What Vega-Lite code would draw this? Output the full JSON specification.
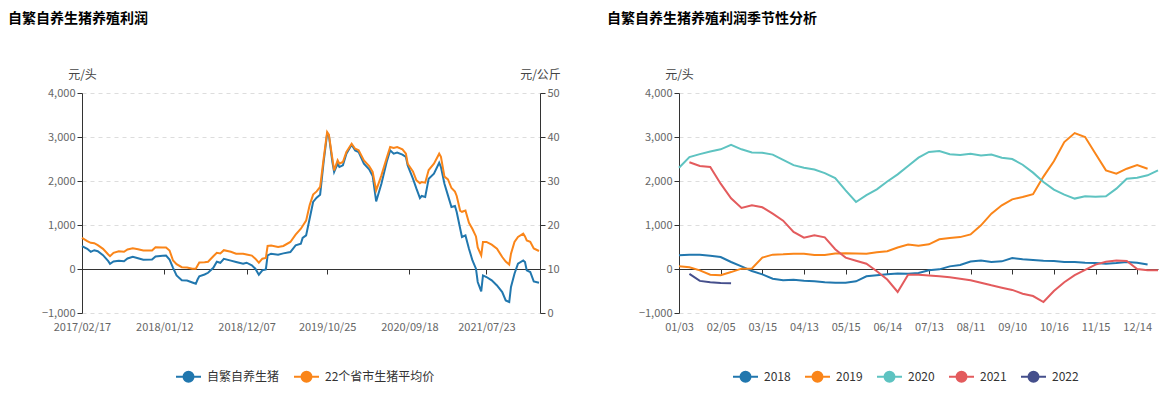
{
  "$schema": "https://vega.github.io/schema/vega-lite/v6.json",
  "padding": {"left": 8, "top": 12, "right": 4, "bottom": 2},
  "config": {
    "font": "Noto Sans CJK SC",
    "view": {"stroke": null},
    "axis": {"labelFontSize": 11, "labelColor": "#666", "domainColor": "#333", "tickColor": "#333", "titleFontWeight": "normal", "titleFontSize": 12, "titleColor": "#444", "labelFont": "Noto Sans CJK SC", "titleFont": "Noto Sans CJK SC"},
    "legend": {"labelFontSize": 12, "labelColor": "#333", "labelFont": "Noto Sans CJK SC", "padding": 0},
    "title": {"fontSize": 14, "fontWeight": "bold", "anchor": "start", "color": "#000", "frame": "group", "font": "Noto Sans CJK SC"}
  },
  "datasets": {
    "pig": [
      {"date": "2017/02/17", "profit": 518, "price": 17.09},
      {"date": "2017/03/10", "profit": 459, "price": 16.32},
      {"date": "2017/03/24", "profit": 390, "price": 15.95},
      {"date": "2017/04/07", "profit": 427, "price": 15.86},
      {"date": "2017/04/21", "profit": 405, "price": 15.41},
      {"date": "2017/05/12", "profit": 314, "price": 14.59},
      {"date": "2017/06/02", "profit": 177, "price": 13.30},
      {"date": "2017/06/09", "profit": 118, "price": 12.91},
      {"date": "2017/06/23", "profit": 170, "price": 13.68},
      {"date": "2017/07/14", "profit": 186, "price": 14.05},
      {"date": "2017/08/04", "profit": 177, "price": 13.91},
      {"date": "2017/08/18", "profit": 239, "price": 14.43},
      {"date": "2017/09/08", "profit": 277, "price": 14.73},
      {"date": "2017/09/29", "profit": 245, "price": 14.50},
      {"date": "2017/10/20", "profit": 209, "price": 14.20},
      {"date": "2017/11/24", "profit": 216, "price": 14.20},
      {"date": "2017/12/08", "profit": 284, "price": 14.95},
      {"date": "2018/01/05", "profit": 300, "price": 14.89},
      {"date": "2018/01/19", "profit": 307, "price": 14.89},
      {"date": "2018/02/02", "profit": 216, "price": 14.20},
      {"date": "2018/02/16", "profit": 27, "price": 11.93},
      {"date": "2018/03/02", "profit": -148, "price": 11.09},
      {"date": "2018/03/23", "profit": -255, "price": 10.41},
      {"date": "2018/04/13", "profit": -261, "price": 10.34},
      {"date": "2018/05/04", "profit": -307, "price": 10.05},
      {"date": "2018/05/18", "profit": -336, "price": 10.05},
      {"date": "2018/05/25", "profit": -239, "price": 10.80},
      {"date": "2018/06/01", "profit": -164, "price": 11.48},
      {"date": "2018/06/22", "profit": -125, "price": 11.55},
      {"date": "2018/07/06", "profit": -86, "price": 11.64},
      {"date": "2018/07/27", "profit": 27, "price": 12.90},
      {"date": "2018/08/10", "profit": 164, "price": 13.68},
      {"date": "2018/08/24", "profit": 141, "price": 13.52},
      {"date": "2018/09/07", "profit": 232, "price": 14.27},
      {"date": "2018/10/05", "profit": 190, "price": 13.91},
      {"date": "2018/10/26", "profit": 159, "price": 13.48},
      {"date": "2018/11/23", "profit": 120, "price": 13.48},
      {"date": "2018/12/07", "profit": 143, "price": 13.30},
      {"date": "2018/12/28", "profit": 82, "price": 13.05},
      {"date": "2019/01/11", "profit": 7, "price": 12.34},
      {"date": "2019/01/25", "profit": -130, "price": 11.43},
      {"date": "2019/02/08", "profit": -32, "price": 12.34},
      {"date": "2019/02/22", "profit": -9, "price": 12.50},
      {"date": "2019/03/01", "profit": 309, "price": 15.23},
      {"date": "2019/03/15", "profit": 348, "price": 15.36},
      {"date": "2019/04/12", "profit": 325, "price": 15.00},
      {"date": "2019/05/03", "profit": 355, "price": 15.23},
      {"date": "2019/05/31", "profit": 386, "price": 16.14},
      {"date": "2019/06/21", "profit": 536, "price": 17.80},
      {"date": "2019/07/12", "profit": 575, "price": 19.16},
      {"date": "2019/07/19", "profit": 705, "price": 19.77},
      {"date": "2019/08/02", "profit": 764, "price": 21.0},
      {"date": "2019/08/16", "profit": 1143, "price": 24.5},
      {"date": "2019/08/30", "profit": 1523, "price": 26.9},
      {"date": "2019/09/13", "profit": 1620, "price": 27.64},
      {"date": "2019/09/27", "profit": 1689, "price": 28.64},
      {"date": "2019/10/11", "profit": 2432, "price": 35.07},
      {"date": "2019/10/25", "profit": 3075, "price": 41.14},
      {"date": "2019/11/01", "profit": 3037, "price": 40.53},
      {"date": "2019/11/15", "profit": 2432, "price": 35.07},
      {"date": "2019/11/22", "profit": 2205, "price": 32.41},
      {"date": "2019/12/06", "profit": 2393, "price": 34.69},
      {"date": "2019/12/13", "profit": 2318, "price": 33.93},
      {"date": "2019/12/27", "profit": 2355, "price": 34.32},
      {"date": "2020/01/10", "profit": 2621, "price": 36.59},
      {"date": "2020/01/31", "profit": 2825, "price": 38.48},
      {"date": "2020/02/14", "profit": 2696, "price": 37.34},
      {"date": "2020/02/28", "profit": 2659, "price": 37.0},
      {"date": "2020/03/20", "profit": 2393, "price": 34.69},
      {"date": "2020/04/10", "profit": 2264, "price": 33.41},
      {"date": "2020/04/24", "profit": 2114, "price": 32.05},
      {"date": "2020/05/08", "profit": 1536, "price": 27.87},
      {"date": "2020/05/29", "profit": 1939, "price": 31.28},
      {"date": "2020/06/19", "profit": 2432, "price": 35.2},
      {"date": "2020/07/03", "profit": 2696, "price": 37.73},
      {"date": "2020/07/17", "profit": 2621, "price": 37.50},
      {"date": "2020/07/31", "profit": 2644, "price": 37.73},
      {"date": "2020/08/21", "profit": 2598, "price": 37.18},
      {"date": "2020/09/04", "profit": 2546, "price": 36.21},
      {"date": "2020/09/11", "profit": 2355, "price": 33.93},
      {"date": "2020/10/02", "profit": 2053, "price": 32.16},
      {"date": "2020/10/16", "profit": 1825, "price": 30.15},
      {"date": "2020/10/30", "profit": 1614, "price": 29.5},
      {"date": "2020/11/06", "profit": 1659, "price": 29.77},
      {"date": "2020/11/20", "profit": 1637, "price": 29.62},
      {"date": "2020/12/04", "profit": 2053, "price": 32.5},
      {"date": "2020/12/25", "profit": 2166, "price": 33.93},
      {"date": "2021/01/15", "profit": 2416, "price": 36.21},
      {"date": "2021/01/22", "profit": 2318, "price": 35.5},
      {"date": "2021/02/05", "profit": 1939, "price": 31.0},
      {"date": "2021/02/19", "profit": 1673, "price": 30.37},
      {"date": "2021/03/05", "profit": 1409, "price": 28.4},
      {"date": "2021/03/19", "profit": 1432, "price": 27.6},
      {"date": "2021/03/26", "profit": 1296, "price": 26.6},
      {"date": "2021/04/09", "profit": 916, "price": 23.2},
      {"date": "2021/04/16", "profit": 727, "price": 23.0},
      {"date": "2021/04/30", "profit": 764, "price": 23.3},
      {"date": "2021/05/14", "profit": 461, "price": 20.5},
      {"date": "2021/05/28", "profit": 195, "price": 19.1},
      {"date": "2021/06/11", "profit": 7, "price": 17.4},
      {"date": "2021/06/18", "profit": -295, "price": 14.9},
      {"date": "2021/07/02", "profit": -509, "price": 13.09},
      {"date": "2021/07/09", "profit": -145, "price": 16.14},
      {"date": "2021/07/23", "profit": -182, "price": 16.14},
      {"date": "2021/08/13", "profit": -259, "price": 15.52},
      {"date": "2021/09/03", "profit": -373, "price": 14.61},
      {"date": "2021/09/24", "profit": -523, "price": 12.73},
      {"date": "2021/10/08", "profit": -714, "price": 11.7},
      {"date": "2021/10/22", "profit": -750, "price": 11.0},
      {"date": "2021/10/29", "profit": -409, "price": 13.48},
      {"date": "2021/11/12", "profit": -107, "price": 16.14},
      {"date": "2021/11/26", "profit": 120, "price": 17.27},
      {"date": "2021/12/17", "profit": 195, "price": 18.02},
      {"date": "2021/12/24", "profit": 159, "price": 17.4},
      {"date": "2021/12/31", "profit": -32, "price": 16.5},
      {"date": "2022/01/14", "profit": -68, "price": 16.2},
      {"date": "2022/01/28", "profit": -282, "price": 14.68},
      {"date": "2022/02/18", "profit": -311, "price": 14.09}
    ],
    "season": [
      {"d": "01/03", "year": "2018", "v": 310}, {"d": "01/10", "year": "2018", "v": 326}, {"d": "01/17", "year": "2018", "v": 326}, {"d": "01/24", "year": "2018", "v": 303}, {"d": "02/05", "year": "2018", "v": 273}, {"d": "02/14", "year": "2018", "v": 159}, {"d": "02/21", "year": "2018", "v": 61}, {"d": "03/07", "year": "2018", "v": -45}, {"d": "03/15", "year": "2018", "v": -121}, {"d": "03/22", "year": "2018", "v": -220}, {"d": "03/29", "year": "2018", "v": -258}, {"d": "04/06", "year": "2018", "v": -242}, {"d": "04/13", "year": "2018", "v": -265}, {"d": "04/20", "year": "2018", "v": -280}, {"d": "04/27", "year": "2018", "v": -300}, {"d": "05/08", "year": "2018", "v": -311}, {"d": "05/15", "year": "2018", "v": -311}, {"d": "05/22", "year": "2018", "v": -280}, {"d": "05/29", "year": "2018", "v": -165}, {"d": "06/05", "year": "2018", "v": -144}, {"d": "06/14", "year": "2018", "v": -120}, {"d": "06/21", "year": "2018", "v": -102}, {"d": "06/28", "year": "2018", "v": -110}, {"d": "07/06", "year": "2018", "v": -90}, {"d": "07/13", "year": "2018", "v": -30}, {"d": "07/20", "year": "2018", "v": -8}, {"d": "07/27", "year": "2018", "v": 60}, {"d": "08/03", "year": "2018", "v": 90}, {"d": "08/11", "year": "2018", "v": 170}, {"d": "08/18", "year": "2018", "v": 195}, {"d": "08/25", "year": "2018", "v": 159}, {"d": "09/01", "year": "2018", "v": 174}, {"d": "09/10", "year": "2018", "v": 250}, {"d": "09/17", "year": "2018", "v": 220}, {"d": "09/24", "year": "2018", "v": 205}, {"d": "10/09", "year": "2018", "v": 189}, {"d": "10/16", "year": "2018", "v": 182}, {"d": "10/23", "year": "2018", "v": 159}, {"d": "10/30", "year": "2018", "v": 159}, {"d": "11/06", "year": "2018", "v": 144}, {"d": "11/15", "year": "2018", "v": 136}, {"d": "11/22", "year": "2018", "v": 121}, {"d": "11/29", "year": "2018", "v": 136}, {"d": "12/06", "year": "2018", "v": 159}, {"d": "12/14", "year": "2018", "v": 144}, {"d": "12/21", "year": "2018", "v": 100},
      {"d": "01/03", "year": "2019", "v": 60}, {"d": "01/10", "year": "2019", "v": 40}, {"d": "01/17", "year": "2019", "v": -30}, {"d": "01/24", "year": "2019", "v": -130}, {"d": "02/05", "year": "2019", "v": -140}, {"d": "02/14", "year": "2019", "v": -70}, {"d": "02/21", "year": "2019", "v": 8}, {"d": "03/07", "year": "2019", "v": 10}, {"d": "03/15", "year": "2019", "v": 258}, {"d": "03/22", "year": "2019", "v": 326}, {"d": "03/29", "year": "2019", "v": 333}, {"d": "04/06", "year": "2019", "v": 348}, {"d": "04/13", "year": "2019", "v": 348}, {"d": "04/20", "year": "2019", "v": 318}, {"d": "04/27", "year": "2019", "v": 320}, {"d": "05/08", "year": "2019", "v": 350}, {"d": "05/15", "year": "2019", "v": 360}, {"d": "05/22", "year": "2019", "v": 350}, {"d": "05/29", "year": "2019", "v": 345}, {"d": "06/05", "year": "2019", "v": 380}, {"d": "06/14", "year": "2019", "v": 405}, {"d": "06/21", "year": "2019", "v": 490}, {"d": "06/28", "year": "2019", "v": 555}, {"d": "07/06", "year": "2019", "v": 530}, {"d": "07/13", "year": "2019", "v": 560}, {"d": "07/20", "year": "2019", "v": 674}, {"d": "07/27", "year": "2019", "v": 705}, {"d": "08/03", "year": "2019", "v": 725}, {"d": "08/11", "year": "2019", "v": 785}, {"d": "08/18", "year": "2019", "v": 992}, {"d": "08/25", "year": "2019", "v": 1258}, {"d": "09/01", "year": "2019", "v": 1447}, {"d": "09/10", "year": "2019", "v": 1583}, {"d": "09/17", "year": "2019", "v": 1636}, {"d": "09/24", "year": "2019", "v": 1700}, {"d": "10/09", "year": "2019", "v": 2100}, {"d": "10/16", "year": "2019", "v": 2450}, {"d": "10/23", "year": "2019", "v": 2886}, {"d": "10/30", "year": "2019", "v": 3090}, {"d": "11/06", "year": "2019", "v": 3000}, {"d": "11/15", "year": "2019", "v": 2621}, {"d": "11/22", "year": "2019", "v": 2242}, {"d": "11/29", "year": "2019", "v": 2167}, {"d": "12/06", "year": "2019", "v": 2280}, {"d": "12/14", "year": "2019", "v": 2360}, {"d": "12/21", "year": "2019", "v": 2280},
      {"d": "01/03", "year": "2020", "v": 2300}, {"d": "01/10", "year": "2020", "v": 2545}, {"d": "01/17", "year": "2020", "v": 2610}, {"d": "01/24", "year": "2020", "v": 2670}, {"d": "02/05", "year": "2020", "v": 2720}, {"d": "02/14", "year": "2020", "v": 2820}, {"d": "02/21", "year": "2020", "v": 2720}, {"d": "03/07", "year": "2020", "v": 2650}, {"d": "03/15", "year": "2020", "v": 2640}, {"d": "03/22", "year": "2020", "v": 2600}, {"d": "03/29", "year": "2020", "v": 2480}, {"d": "04/06", "year": "2020", "v": 2360}, {"d": "04/13", "year": "2020", "v": 2300}, {"d": "04/20", "year": "2020", "v": 2260}, {"d": "04/27", "year": "2020", "v": 2180}, {"d": "05/08", "year": "2020", "v": 2068}, {"d": "05/15", "year": "2020", "v": 1788}, {"d": "05/22", "year": "2020", "v": 1523}, {"d": "05/29", "year": "2020", "v": 1680}, {"d": "06/05", "year": "2020", "v": 1810}, {"d": "06/14", "year": "2020", "v": 1990}, {"d": "06/21", "year": "2020", "v": 2150}, {"d": "06/28", "year": "2020", "v": 2340}, {"d": "07/06", "year": "2020", "v": 2530}, {"d": "07/13", "year": "2020", "v": 2660}, {"d": "07/20", "year": "2020", "v": 2680}, {"d": "07/27", "year": "2020", "v": 2610}, {"d": "08/03", "year": "2020", "v": 2590}, {"d": "08/11", "year": "2020", "v": 2620}, {"d": "08/18", "year": "2020", "v": 2580}, {"d": "08/25", "year": "2020", "v": 2600}, {"d": "09/01", "year": "2020", "v": 2530}, {"d": "09/10", "year": "2020", "v": 2500}, {"d": "09/17", "year": "2020", "v": 2370}, {"d": "09/24", "year": "2020", "v": 2190}, {"d": "10/09", "year": "2020", "v": 1977}, {"d": "10/16", "year": "2020", "v": 1803}, {"d": "10/23", "year": "2020", "v": 1689}, {"d": "10/30", "year": "2020", "v": 1600}, {"d": "11/06", "year": "2020", "v": 1652}, {"d": "11/15", "year": "2020", "v": 1640}, {"d": "11/22", "year": "2020", "v": 1652}, {"d": "11/29", "year": "2020", "v": 1826}, {"d": "12/06", "year": "2020", "v": 2053}, {"d": "12/14", "year": "2020", "v": 2076}, {"d": "12/21", "year": "2020", "v": 2129}, {"d": "12/28", "year": "2020", "v": 2242},
      {"d": "01/10", "year": "2021", "v": 2425}, {"d": "01/17", "year": "2021", "v": 2341}, {"d": "01/24", "year": "2021", "v": 2320}, {"d": "02/05", "year": "2021", "v": 1939}, {"d": "02/14", "year": "2021", "v": 1606}, {"d": "02/21", "year": "2021", "v": 1386}, {"d": "03/07", "year": "2021", "v": 1447}, {"d": "03/15", "year": "2021", "v": 1402}, {"d": "03/22", "year": "2021", "v": 1258}, {"d": "03/29", "year": "2021", "v": 1098}, {"d": "04/06", "year": "2021", "v": 841}, {"d": "04/13", "year": "2021", "v": 712}, {"d": "04/20", "year": "2021", "v": 765}, {"d": "04/27", "year": "2021", "v": 720}, {"d": "05/08", "year": "2021", "v": 450}, {"d": "05/15", "year": "2021", "v": 258}, {"d": "05/22", "year": "2021", "v": 189}, {"d": "05/29", "year": "2021", "v": 120}, {"d": "06/05", "year": "2021", "v": -50}, {"d": "06/14", "year": "2021", "v": -240}, {"d": "06/21", "year": "2021", "v": -523}, {"d": "06/28", "year": "2021", "v": -129}, {"d": "07/06", "year": "2021", "v": -130}, {"d": "07/13", "year": "2021", "v": -150}, {"d": "07/20", "year": "2021", "v": -165}, {"d": "07/27", "year": "2021", "v": -190}, {"d": "08/03", "year": "2021", "v": -220}, {"d": "08/11", "year": "2021", "v": -258}, {"d": "08/18", "year": "2021", "v": -311}, {"d": "08/25", "year": "2021", "v": -371}, {"d": "09/01", "year": "2021", "v": -424}, {"d": "09/10", "year": "2021", "v": -475}, {"d": "09/17", "year": "2021", "v": -561}, {"d": "09/24", "year": "2021", "v": -614}, {"d": "10/09", "year": "2021", "v": -750}, {"d": "10/16", "year": "2021", "v": -500}, {"d": "10/23", "year": "2021", "v": -300}, {"d": "10/30", "year": "2021", "v": -140}, {"d": "11/06", "year": "2021", "v": -20}, {"d": "11/15", "year": "2021", "v": 100}, {"d": "11/22", "year": "2021", "v": 165}, {"d": "11/29", "year": "2021", "v": 195}, {"d": "12/06", "year": "2021", "v": 182}, {"d": "12/14", "year": "2021", "v": 0}, {"d": "12/21", "year": "2021", "v": -30}, {"d": "12/28", "year": "2021", "v": -30},
      {"d": "01/10", "year": "2022", "v": -110}, {"d": "01/17", "year": "2022", "v": -270}, {"d": "01/24", "year": "2022", "v": -300}, {"d": "02/05", "year": "2022", "v": -318}, {"d": "02/14", "year": "2022", "v": -326}
    ]
  },
  "spacing": 46,
  "resolve": {"scale": {"color": "independent"}, "legend": {"color": "independent"}},
  "hconcat": [
    {
      "width": 458,
      "height": 220,
      "title": {"text": "自繁自养生猪养殖利润", "dx": -74, "offset": 42},
      "data": {"name": "pig"},
      "layer": [
        {
          "mark": {"type": "line", "strokeWidth": 2},
          "encoding": {
            "x": {
              "field": "date", "type": "temporal",
              "scale": {"domain": [{"year": 2017, "month": 2, "date": 17}, {"year": 2022, "month": 2, "date": 22}]},
              "axis": {"values": [{"year": 2017, "month": 2, "date": 17}, {"year": 2018, "month": 1, "date": 12}, {"year": 2018, "month": 12, "date": 7}, {"year": 2019, "month": 10, "date": 25}, {"year": 2020, "month": 9, "date": 18}, {"year": 2021, "month": 7, "date": 23}], "format": "%Y/%m/%d", "ticks": false, "domain": false, "grid": false, "labelPadding": 8, "title": null, "labelFlush": false, "labelOverlap": false}
            },
            "y": {
              "field": "profit", "type": "quantitative",
              "scale": {"domain": [-1000, 4000], "nice": false},
              "axis": {"values": [-1000, 0, 1000, 2000, 3000, 4000], "format": ",.0f", "grid": true, "gridDash": [4, 4], "gridColor": "#dddddd", "tickSize": 5, "labelPadding": 2, "title": "元/头", "titleAngle": 0, "titleX": 0, "titleY": -15, "titleAlign": "center", "titleBaseline": "alphabetic"}
            },
            "color": {
              "datum": "自繁自养生猪", "type": "nominal",
              "scale": {"domain": ["自繁自养生猪", "22个省市生猪平均价"], "range": ["#2177ae", "#fa8519"]},
              "legend": {
                "orient": "none", "legendX": 93, "legendY": 270, "direction": "horizontal", "title": null,
                "symbolType": "M-1,0L-0.4,0M0.4,0L1,0M0.4,0A0.4,0.4,0,1,1,-0.4,0A0.4,0.4,0,1,1,0.4,0",
                "symbolSize": 625, "symbolStrokeWidth": 2, "columnPadding": 10, "labelOffset": 5,
                "encode": {"symbols": {"update": {"fill": {"signal": "datum.value == '自繁自养生猪' ? '#2177ae' : '#fa8519'"}, "fillOpacity": {"value": 1}}}}
              }
            }
          }
        },
        {
          "mark": {"type": "line", "strokeWidth": 2},
          "encoding": {
            "x": {
              "field": "date", "type": "temporal",
              "axis": {"orient": "bottom", "offset": -44, "values": [{"year": 2017, "month": 2, "date": 17}, {"year": 2018, "month": 1, "date": 12}, {"year": 2018, "month": 12, "date": 7}, {"year": 2019, "month": 10, "date": 25}, {"year": 2020, "month": 9, "date": 18}, {"year": 2021, "month": 7, "date": 23}], "labels": false, "ticks": true, "tickSize": 5, "domain": true, "grid": false, "title": null}
            },
            "y": {
              "field": "price", "type": "quantitative",
              "scale": {"domain": [0, 50], "nice": false},
              "axis": {"orient": "right", "values": [0, 10, 20, 30, 40, 50], "grid": false, "tickSize": 5, "labelPadding": 2, "title": "元/公斤", "titleAngle": 0, "titleX": 0, "titleY": -15, "titleAlign": "center", "titleBaseline": "alphabetic"}
            },
            "color": {"datum": "22个省市生猪平均价", "type": "nominal"}
          }
        }
      ],
      "resolve": {"scale": {"y": "independent"}, "axis": {"x": "independent", "y": "independent"}}
    },
    {
      "width": 479,
      "height": 220,
      "title": {"text": "自繁自养生猪养殖利润季节性分析", "dx": -72, "offset": 42},
      "data": {"name": "season"},
      "layer": [
        {
          "mark": {"type": "line", "strokeWidth": 2},
          "encoding": {
            "x": {
              "field": "d", "type": "ordinal",
              "scale": {"type": "point", "padding": 0, "domain": ["01/03", "01/10", "01/17", "01/24", "02/05", "02/14", "02/21", "03/07", "03/15", "03/22", "03/29", "04/06", "04/13", "04/20", "04/27", "05/08", "05/15", "05/22", "05/29", "06/05", "06/14", "06/21", "06/28", "07/06", "07/13", "07/20", "07/27", "08/03", "08/11", "08/18", "08/25", "09/01", "09/10", "09/17", "09/24", "10/09", "10/16", "10/23", "10/30", "11/06", "11/15", "11/22", "11/29", "12/06", "12/14", "12/21", "12/28"]},
              "axis": {"values": ["01/03", "02/05", "03/15", "04/13", "05/15", "06/14", "07/13", "08/11", "09/10", "10/16", "11/15", "12/14"], "labelAngle": 0, "ticks": false, "domain": false, "grid": false, "labelPadding": 8, "title": null, "labelOverlap": false}
            },
            "y": {
              "field": "v", "type": "quantitative",
              "scale": {"domain": [-1000, 4000], "nice": false},
              "axis": {"values": [-1000, 0, 1000, 2000, 3000, 4000], "format": ",.0f", "grid": true, "gridDash": [4, 4], "gridColor": "#dddddd", "tickSize": 5, "labelPadding": 2, "title": "元/头", "titleAngle": 0, "titleX": 0, "titleY": -15, "titleAlign": "center", "titleBaseline": "alphabetic"}
            },
            "color": {
              "field": "year", "type": "nominal",
              "scale": {"domain": ["2018", "2019", "2020", "2021", "2022"], "range": ["#2177ae", "#fa8519", "#5ec3c1", "#e35b5d", "#454f8c"]},
              "legend": {
                "orient": "none", "legendX": 53, "legendY": 270, "direction": "horizontal", "title": null,
                "symbolType": "M-1,0L-0.4,0M0.4,0L1,0M0.4,0A0.4,0.4,0,1,1,-0.4,0A0.4,0.4,0,1,1,0.4,0",
                "symbolSize": 625, "symbolStrokeWidth": 2, "columnPadding": 10, "labelOffset": 5,
                "encode": {"symbols": {"update": {"fill": {"signal": "{'2018':'#2177ae','2019':'#fa8519','2020':'#5ec3c1','2021':'#e35b5d','2022':'#454f8c'}[datum.value]"}, "fillOpacity": {"value": 1}}}}
              }
            }
          }
        },
        {
          "mark": {"type": "line", "opacity": 0},
          "encoding": {
            "x": {
              "field": "d", "type": "ordinal",
              "axis": {"orient": "bottom", "offset": -44, "values": ["01/03", "02/05", "03/15", "04/13", "05/15", "06/14", "07/13", "08/11", "09/10", "10/16", "11/15", "12/14"], "labels": false, "ticks": true, "tickSize": 5, "domain": true, "grid": false, "title": null}
            },
            "y": {"field": "v", "type": "quantitative"},
            "detail": {"field": "year", "type": "nominal"}
          }
        }
      ],
      "resolve": {"axis": {"x": "independent"}}
    }
  ]
}
